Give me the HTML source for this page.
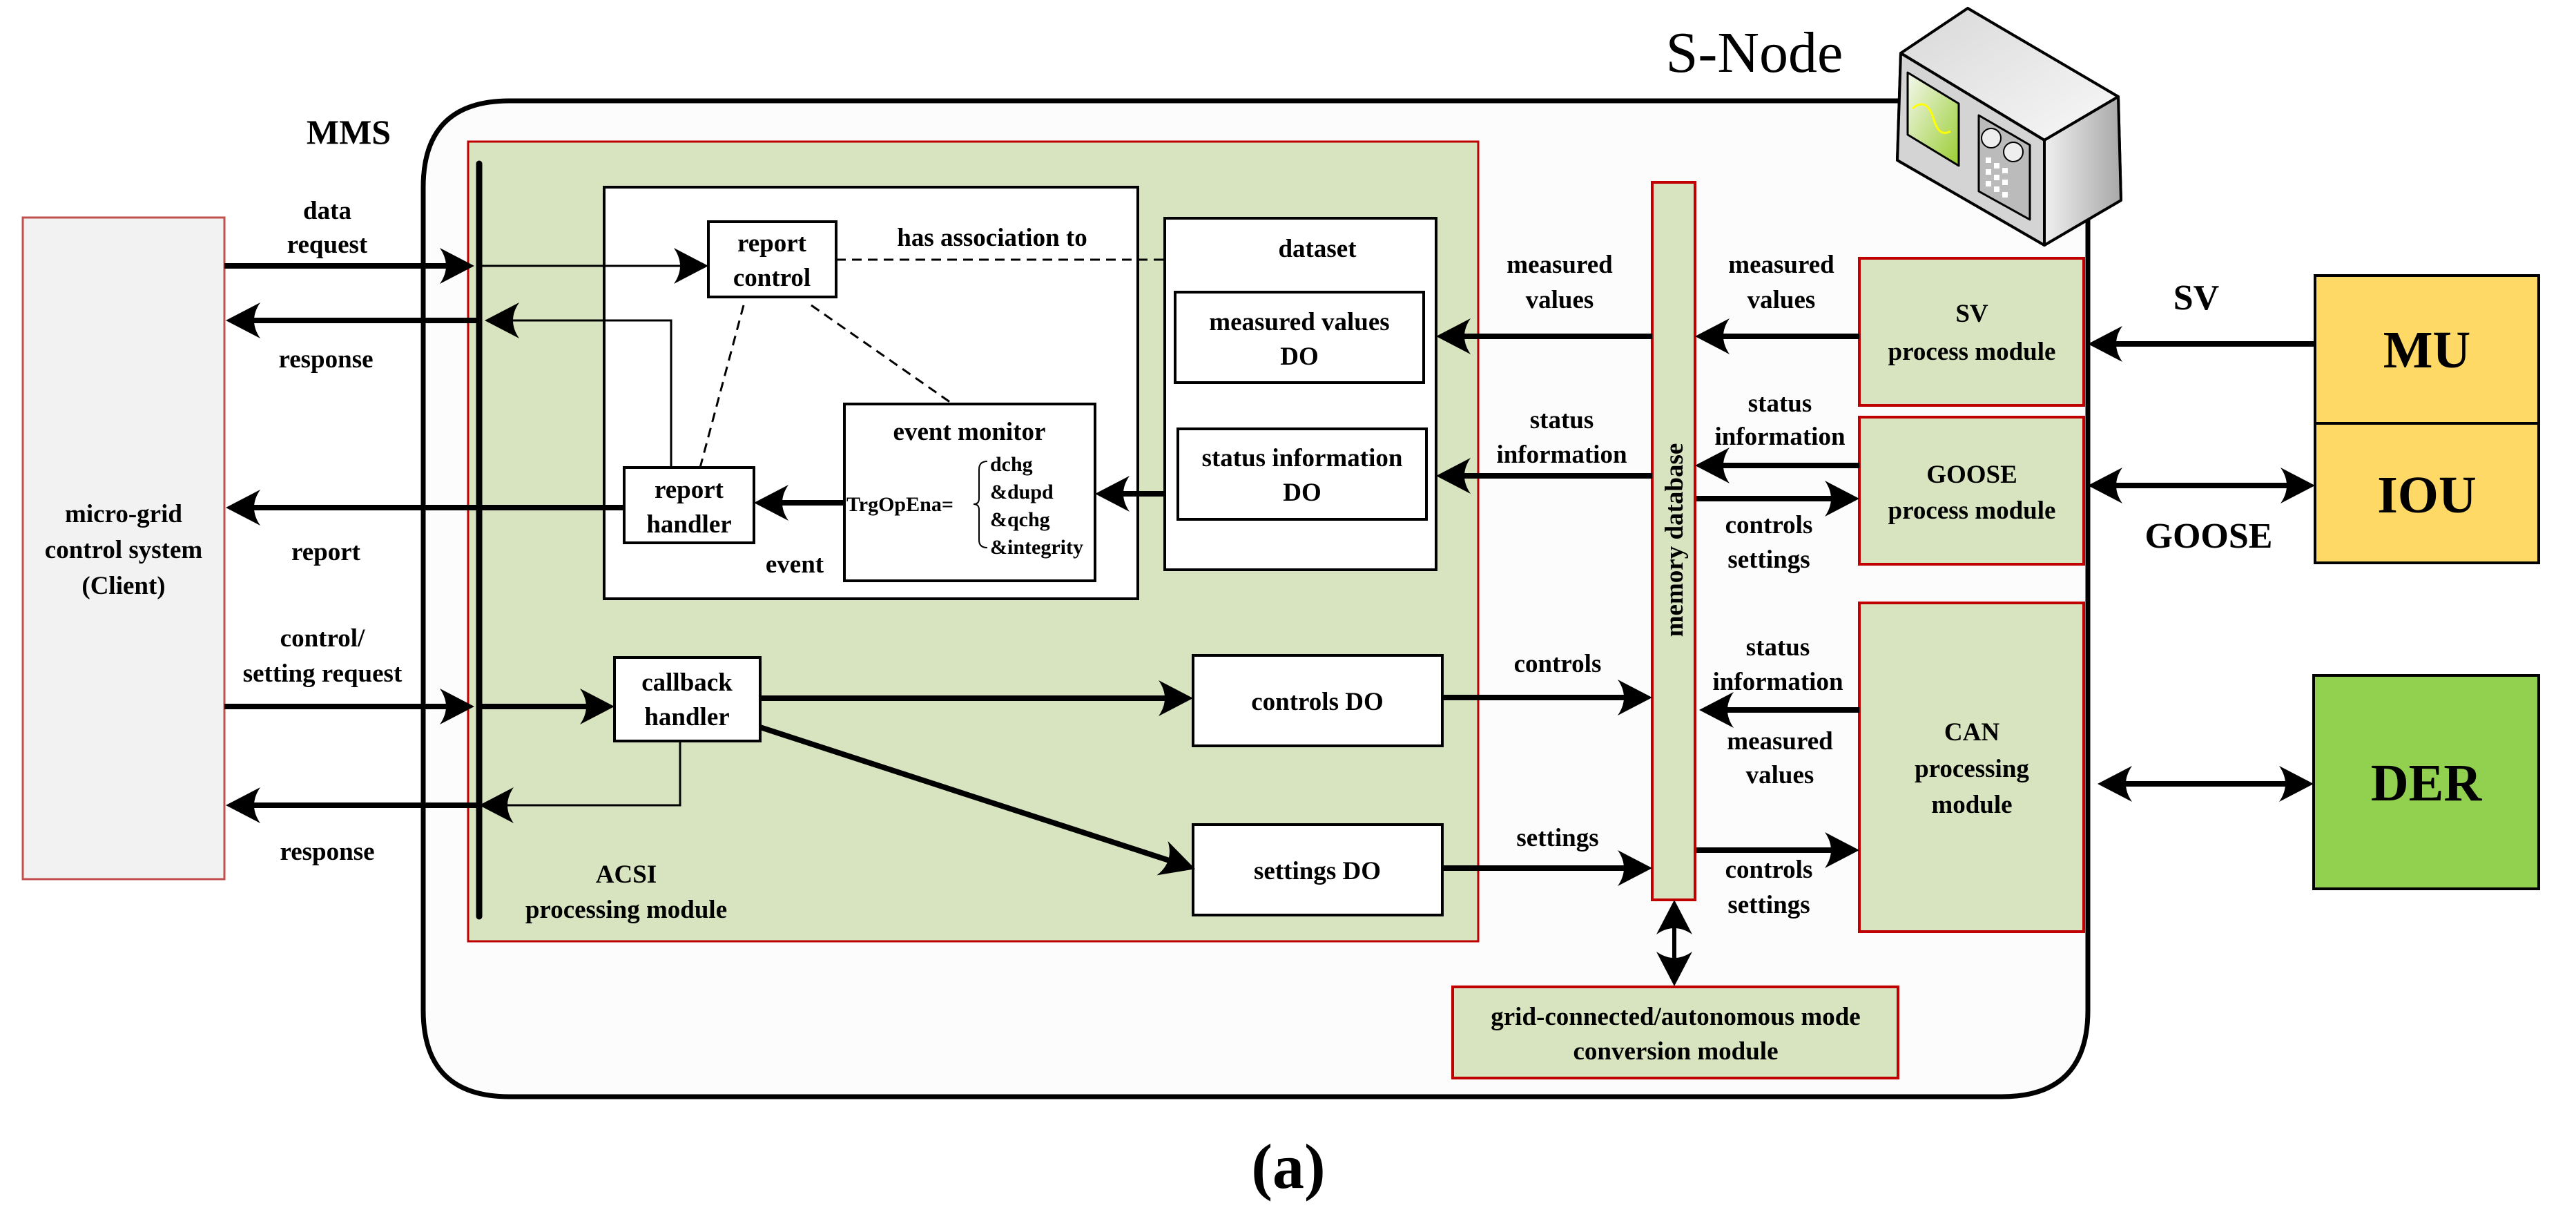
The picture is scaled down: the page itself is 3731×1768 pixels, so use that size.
<!DOCTYPE html>
<html><head><meta charset="utf-8"><style>
html,body{margin:0;padding:0;background:#fff;}
svg{display:block;}
svg text{font-family:"Liberation Serif","Times New Roman","DejaVu Serif",serif;font-weight:bold;fill:#000;}
</style></head><body>
<svg width="3731" height="1768" viewBox="0 0 3731 1768" xmlns="http://www.w3.org/2000/svg" font-family="Liberation Serif, Times New Roman, serif">
<defs>
<marker id="a" viewBox="0 0 50 52" refX="30" refY="26" markerWidth="50" markerHeight="52" markerUnits="userSpaceOnUse" orient="auto-start-reverse">
<path d="M0,0 Q18,26 0,52 L50,26 Z" fill="#000"/>
</marker>
<linearGradient id="gt" x1="0" y1="0" x2="1" y2="1"><stop offset="0" stop-color="#d8d8d8"/><stop offset="1" stop-color="#f8f8f8"/></linearGradient>
<linearGradient id="gr" x1="0" y1="0" x2="1" y2="0"><stop offset="0" stop-color="#f0f0f0"/><stop offset="1" stop-color="#a8a8a8"/></linearGradient>
<linearGradient id="gs" x1="0" y1="0" x2="1" y2="1"><stop offset="0" stop-color="#f4f8ee"/><stop offset="1" stop-color="#9acd32"/></linearGradient>
</defs>

<path d="M738,146 H3024 V1463 Q3024,1588 2899,1588 H738 Q613,1588 613,1463 V271 Q613,146 738,146 Z" fill="#fcfcfc" stroke="#000" stroke-width="7"/>

<g stroke="#000" stroke-width="4" stroke-linejoin="round">
<path d="M2753,77 L2850,12 L3068,140 L3072,290 L2961,355 L2748,232 Z" fill="#ccc"/>
<path d="M2753,77 L2850,12 L3068,140 L2961,203 Z" fill="url(#gt)"/>
<path d="M2961,203 L3068,140 L3072,290 L2961,355 Z" fill="url(#gr)"/>
<path d="M2753,77 L2961,203 L2961,355 L2748,232 Z" fill="#d4d4d4"/>
<path d="M2763,105 L2837,150 L2837,240 L2763,195 Z" fill="url(#gs)" stroke-width="3"/>
<path d="M2866,167 L2940,210 L2940,318 L2866,277 Z" fill="#bbb" stroke-width="3"/>
</g>
<path d="M2770,157 Q2790,140 2800,170 Q2808,200 2825,190" fill="none" stroke="#ff0" stroke-width="3"/>
<g fill="#eee" stroke="#000" stroke-width="2"><circle cx="2884" cy="200" r="14"/><circle cx="2916" cy="220" r="14"/></g>
<g fill="#fff"><rect x="2876" y="228" width="8" height="8"/><rect x="2888" y="236" width="8" height="8"/><rect x="2900" y="243" width="8" height="8"/><rect x="2876" y="245" width="8" height="8"/><rect x="2888" y="253" width="8" height="8"/><rect x="2900" y="260" width="8" height="8"/><rect x="2876" y="262" width="8" height="8"/><rect x="2888" y="270" width="8" height="8"/><rect x="2900" y="278" width="8" height="8"/></g>
<text x="2541" y="104" font-size="84" text-anchor="middle" style="font-weight:normal">S-Node</text>

<rect x="33" y="315" width="292" height="958" fill="#f2f2f2" stroke="#c0504d" stroke-width="3"/>
<g font-size="37" text-anchor="middle">
<text x="179" y="756">micro-grid</text>
<text x="179" y="808">control system</text>
<text x="179" y="860">(Client)</text>
</g>

<rect x="678" y="205" width="1463" height="1158" fill="#d8e4bf" stroke="#c00000" stroke-width="3"/>
<rect x="875" y="271" width="773" height="596" fill="#fff" stroke="#000" stroke-width="4"/>
<rect x="1687" y="316" width="393" height="509" fill="#fff" stroke="#000" stroke-width="4"/>
<rect x="1702" y="423" width="360" height="131" fill="#fff" stroke="#000" stroke-width="4"/>
<rect x="1706" y="621" width="360" height="131" fill="#fff" stroke="#000" stroke-width="4"/>
<rect x="1026" y="321" width="185" height="109" fill="#fff" stroke="#000" stroke-width="4"/>
<rect x="904" y="677" width="188" height="109" fill="#fff" stroke="#000" stroke-width="4"/>
<rect x="1223" y="585" width="363" height="256" fill="#fff" stroke="#000" stroke-width="4"/>
<rect x="890" y="952" width="211" height="121" fill="#fff" stroke="#000" stroke-width="4"/>
<rect x="1728" y="949" width="361" height="131" fill="#fff" stroke="#000" stroke-width="4"/>
<rect x="1728" y="1194" width="361" height="131" fill="#fff" stroke="#000" stroke-width="4"/>

<rect x="2393" y="264" width="62" height="1039" fill="#d8e4bf" stroke="#c00000" stroke-width="4"/>
<text transform="translate(2437,782) rotate(-90)" font-size="37" text-anchor="middle">memory database</text>

<rect x="2693" y="374" width="325" height="213" fill="#d8e4bf" stroke="#c00000" stroke-width="4"/>
<rect x="2693" y="604" width="325" height="213" fill="#d8e4bf" stroke="#c00000" stroke-width="4"/>
<rect x="2693" y="873" width="325" height="476" fill="#d8e4bf" stroke="#c00000" stroke-width="4"/>
<rect x="2104" y="1429" width="645" height="132" fill="#d8e4bf" stroke="#c00000" stroke-width="4"/>

<rect x="3353" y="399" width="324" height="214" fill="#ffd966" stroke="#000" stroke-width="4"/>
<rect x="3353" y="613" width="324" height="202" fill="#ffd966" stroke="#000" stroke-width="4"/>
<rect x="3351" y="978" width="326" height="309" fill="#92d050" stroke="#000" stroke-width="4"/>
<g font-size="76" text-anchor="middle">
<text x="3515" y="532">MU</text>
<text x="3515" y="742">IOU</text>
<text x="3514" y="1159">DER</text>
</g>

<line x1="694" y1="237" x2="694" y2="1327" stroke="#000" stroke-width="9" stroke-linecap="round"/>

<g stroke="#000" stroke-width="8" fill="none" marker-end="url(#a)">
<line x1="325" y1="385" x2="667" y2="385"/>
<line x1="694" y1="464" x2="347" y2="464"/>
<line x1="904" y1="735" x2="347" y2="735"/>
<line x1="1223" y1="728" x2="1112" y2="728"/>
<line x1="1687" y1="715" x2="1606" y2="715"/>
<line x1="325" y1="1023" x2="667" y2="1023"/>
<line x1="694" y1="1023" x2="870" y2="1023"/>
<line x1="694" y1="1166" x2="347" y2="1166"/>
<line x1="1101" y1="1011" x2="1708" y2="1011"/>
<line x1="1101" y1="1053" x2="1712" y2="1252"/>
<line x1="2089" y1="1010" x2="2373" y2="1010"/>
<line x1="2089" y1="1257" x2="2373" y2="1257"/>
<line x1="2393" y1="487" x2="2100" y2="487"/>
<line x1="2393" y1="689" x2="2100" y2="689"/>
<line x1="2693" y1="487" x2="2475" y2="487"/>
<line x1="2693" y1="674" x2="2475" y2="674"/>
<line x1="2457" y1="722" x2="2673" y2="722"/>
<line x1="2693" y1="1028" x2="2481" y2="1028"/>
<line x1="2457" y1="1231" x2="2673" y2="1231"/>
<line x1="3353" y1="498" x2="3044" y2="498"/>
<line x1="3044" y1="703" x2="3333" y2="703" marker-start="url(#a)"/>
<line x1="3058" y1="1135" x2="3331" y2="1135" marker-start="url(#a)"/>
</g>
<line x1="2425" y1="1323" x2="2425" y2="1408" stroke="#000" stroke-width="6" marker-start="url(#a)" marker-end="url(#a)"/>

<g stroke="#000" stroke-width="3" fill="none">
<line x1="694" y1="385" x2="1006" y2="385" marker-end="url(#a)"/>
<polyline points="972,677 972,464 722,464" marker-end="url(#a)"/>
<polyline points="985,1073 985,1166 714,1166" marker-end="url(#a)"/>
</g>
<g stroke="#000" stroke-width="3" fill="none" stroke-dasharray="14,9">
<line x1="1211" y1="376" x2="1687" y2="376"/>
<line x1="1077" y1="442" x2="1014" y2="677"/>
<line x1="1175" y1="442" x2="1380" y2="585"/>
</g>
<path d="M1430,668 Q1418,668 1418,680 V722 Q1418,730 1410,730 Q1418,730 1418,738 V782 Q1418,793 1430,793" fill="none" stroke="#000" stroke-width="2"/>

<g font-size="37" text-anchor="middle">
<text x="505" y="208" font-size="50">MMS</text>
<text x="474" y="317">data</text>
<text x="474" y="366">request</text>
<text x="472" y="532">response</text>
<text x="472" y="811">report</text>
<text x="467" y="936">control/</text>
<text x="467" y="987">setting request</text>
<text x="474" y="1245">response</text>
<text x="907" y="1278">ACSI</text>
<text x="907" y="1329">processing module</text>
<text x="1118" y="364">report</text>
<text x="1118" y="414">control</text>
<text x="998" y="721">report</text>
<text x="998" y="771">handler</text>
<text x="1437" y="356">has association to</text>
<text x="1404" y="637">event monitor</text>
<text x="1151" y="829">event</text>
<text x="995" y="1000">callback</text>
<text x="995" y="1050">handler</text>
<text x="1908" y="372">dataset</text>
<text x="1882" y="478">measured values</text>
<text x="1882" y="528">DO</text>
<text x="1886" y="675">status information</text>
<text x="1886" y="725">DO</text>
<text x="1908" y="1028">controls DO</text>
<text x="1908" y="1273">settings DO</text>
<text x="2259" y="395">measured</text>
<text x="2259" y="446">values</text>
<text x="2262" y="620">status</text>
<text x="2262" y="670">information</text>
<text x="2256" y="973">controls</text>
<text x="2256" y="1225">settings</text>
<text x="2580" y="395">measured</text>
<text x="2580" y="446">values</text>
<text x="2578" y="596">status</text>
<text x="2578" y="644">information</text>
<text x="2562" y="772">controls</text>
<text x="2562" y="822">settings</text>
<text x="2575" y="949">status</text>
<text x="2575" y="999">information</text>
<text x="2578" y="1085">measured</text>
<text x="2578" y="1134">values</text>
<text x="2562" y="1271">controls</text>
<text x="2562" y="1322">settings</text>
<text x="2856" y="466">SV</text>
<text x="2856" y="521">process module</text>
<text x="2856" y="699">GOOSE</text>
<text x="2856" y="751">process module</text>
<text x="2856" y="1072">CAN</text>
<text x="2856" y="1125">processing</text>
<text x="2856" y="1177">module</text>
<text x="2427" y="1484">grid-connected/autonomous mode</text>
<text x="2427" y="1534">conversion module</text>
<text x="3181" y="448" font-size="52">SV</text>
<text x="3199" y="793" font-size="52">GOOSE</text>
<text x="1866" y="1720" font-size="92">(a)</text>
</g>
<g font-size="30">
<text x="1226" y="740">TrgOpEna=</text>
<text x="1434" y="682">dchg</text>
<text x="1434" y="722">&amp;dupd</text>
<text x="1434" y="762">&amp;qchg</text>
<text x="1434" y="802">&amp;integrity</text>
</g>
</svg>
</body></html>
